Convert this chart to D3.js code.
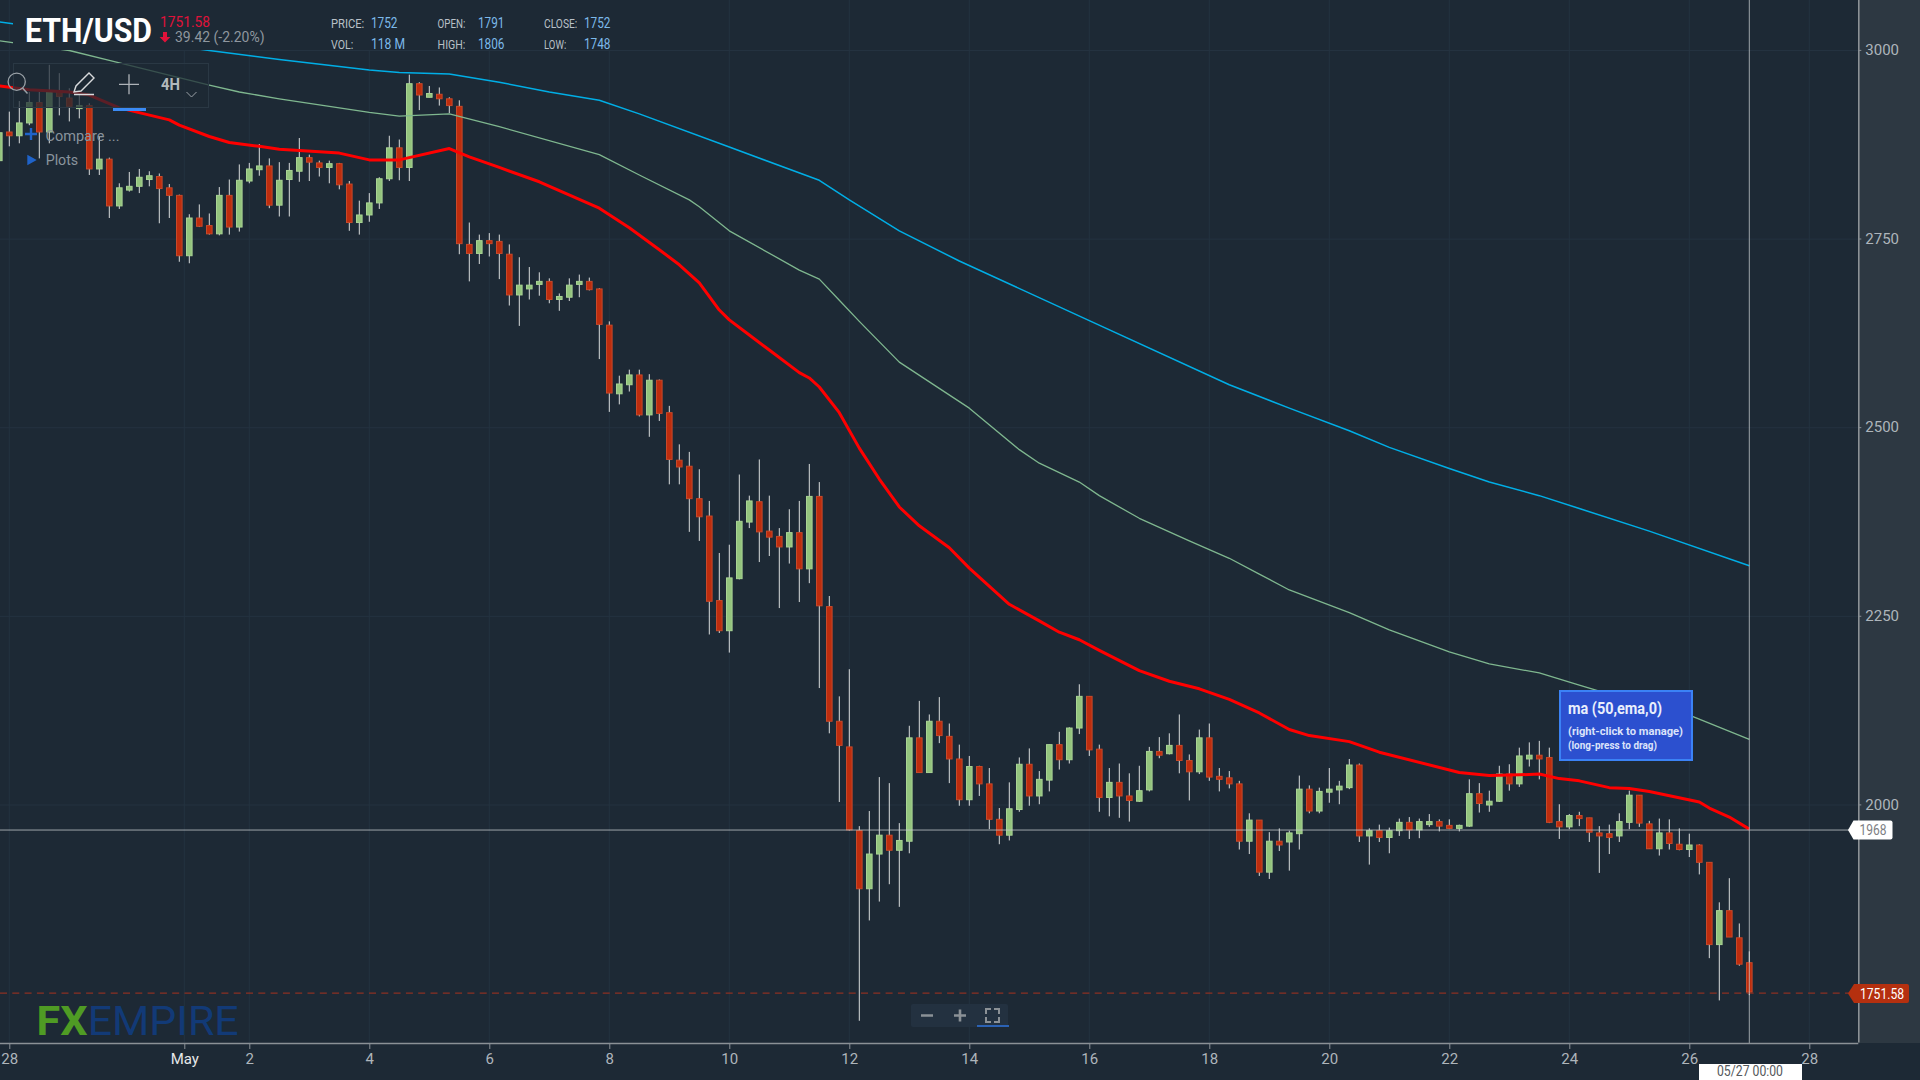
<!DOCTYPE html>
<html>
<head>
<meta charset="utf-8">
<title>ETH/USD</title>
<script src="https://cdnjs.cloudflare.com/ajax/libs/d3/7.8.5/d3.min.js"></script>
<style>
  html, body { margin: 0; padding: 0; background: #1d2935; overflow: hidden; }
  svg { display: block; font-family: Roboto, sans-serif; }
</style>
</head>
<body>
<svg id="chart" width="1920" height="1080"></svg>
<script>
// 4H candles, first one is Apr 27 20:00 (UTC), last one May 27 00:00
var opens = [
  2854,2892,2887,2904,2931,2892,2947,2937,2923,2927,
  2843,2856,2794,2815,2820,2829,2833,2818,2808,2728,
  2778,2768,2757,2808,2766,2827,2842,2847,2795,2829,
  2840,2858,2851,2845,2850,2823,2772,2782,2798,2830,
  2871,2845,2956,2938,2942,2936,2926,2743,2731,2748,
  2747,2730,2676,2684,2690,2694,2670,2673,2690,2694,
  2684,2636,2545,2557,2570,2517,2563,2520,2457,2449,
  2406,2383,2271,2231,2300,2375,2402,2363,2356,2342,
  2361,2313,2409,2263,2111,2077,1966,1889,1935,1960,
  1940,1952,2089,2043,2111,2091,2061,2007,2051,2028,
  1981,1960,1994,2054,2012,2033,2080,2060,2102,2144,
  2074,2010,2030,2012,2005,2020,2071,2068,2079,2059,
  2044,2089,2038,2036,2028,1952,1980,1911,1952,1951,
  1962,2021,1992,2017,2020,2023,2053,1959,1966,1957,
  1966,1977,1967,1974,1978,1973,1969,1972,2015,2000,
  2005,2041,2028,2061,2066,2063,1978,1971,1986,1983,
  1963,1962,1959,1977,2013,1975,1942,1963,1948,1941,
  1947,1924,1815,1860,1824,1791
];
var closes = [
  2891,2887,2904,2931,2892,2945,2939,2926,2927,2843,
  2856,2794,2818,2820,2832,2834,2817,2808,2728,2778,
  2767,2757,2808,2766,2828,2843,2847,2795,2828,2841,
  2858,2852,2845,2850,2822,2772,2782,2798,2830,2871,
  2845,2956,2941,2943,2936,2927,2744,2731,2748,2744,
  2731,2676,2689,2689,2694,2670,2674,2689,2694,2683,
  2637,2546,2558,2570,2517,2563,2519,2458,2448,2406,
  2382,2270,2231,2301,2376,2403,2362,2355,2342,2361,
  2313,2409,2264,2111,2079,1967,1889,1935,1960,1940,
  1953,2089,2043,2111,2092,2061,2007,2051,2028,1981,
  1960,1995,2054,2012,2034,2080,2060,2102,2144,2073,
  2010,2030,2012,2006,2019,2071,2066,2079,2059,2044,
  2089,2037,2034,2028,1952,1980,1911,1952,1947,1963,
  2021,1992,2018,2021,2025,2053,1959,1966,1957,1966,
  1977,1967,1978,1978,1972,1969,1973,2015,2002,2005,
  2041,2028,2065,2066,2061,1977,1971,1986,1982,1964,
  1959,1957,1978,2013,1976,1942,1963,1949,1941,1947,
  1924,1815,1860,1825,1789,1752
];
var highs = [
  2898,2919,2933,2945,2945,2981,2970,2950,2941,2930,
  2886,2858,2824,2839,2843,2840,2837,2823,2809,2783,
  2796,2784,2819,2829,2849,2851,2876,2857,2852,2851,
  2884,2862,2854,2854,2851,2827,2801,2811,2832,2887,
  2882,2968,2958,2953,2951,2938,2934,2772,2756,2758,
  2756,2743,2726,2713,2706,2698,2678,2698,2703,2699,
  2685,2641,2569,2577,2577,2571,2564,2529,2478,2468,
  2445,2403,2334,2345,2438,2410,2458,2410,2367,2392,
  2403,2452,2428,2277,2144,2180,1972,1992,2037,2029,
  1976,2105,2138,2120,2143,2108,2080,2065,2052,2049,
  1996,2030,2063,2075,2045,2080,2097,2103,2160,2144,
  2080,2049,2055,2042,2052,2077,2090,2095,2120,2067,
  2100,2108,2049,2045,2032,1989,1980,1964,1969,1966,
  2039,2026,2023,2049,2032,2061,2055,1969,1974,1970,
  1982,1984,1982,1988,1981,1981,1974,2034,2029,2019,
  2052,2054,2076,2083,2085,2076,2001,1988,1991,1983,
  1972,1974,1989,2019,2013,1979,1982,1981,1969,1962,
  1948,1924,1871,1903,1843,1806
];
var lows = [
  2848,2873,2877,2901,2857,2877,2914,2906,2910,2835,
  2835,2778,2790,2813,2811,2820,2771,2778,2720,2718,
  2766,2756,2755,2756,2760,2824,2834,2791,2780,2780,
  2826,2827,2833,2824,2816,2761,2756,2773,2790,2827,
  2828,2827,2921,2938,2927,2917,2730,2694,2717,2727,
  2697,2662,2635,2670,2675,2665,2655,2668,2673,2682,
  2591,2521,2531,2548,2515,2488,2509,2425,2425,2362,
  2350,2226,2228,2202,2299,2367,2322,2330,2261,2320,
  2269,2294,2155,2095,2004,1966,1714,1847,1872,1895,
  1865,1936,2043,2043,2082,2029,1999,1999,2012,1968,
  1948,1953,1991,1999,2001,2018,2047,2055,2094,2065,
  1991,1985,1983,1978,2004,2018,2062,2067,2042,2006,
  2041,2032,2018,2022,1941,1935,1906,1902,1939,1913,
  1941,1989,1989,2003,2001,2021,1951,1921,1951,1936,
  1959,1955,1956,1971,1965,1968,1965,1971,1990,1991,
  2004,2019,2024,2051,2034,1976,1955,1968,1972,1951,
  1910,1935,1951,1968,1971,1942,1933,1941,1940,1931,
  1908,1797,1741,1825,1787,1748
];

// moving averages, read at these candle numbers
var ema50Idx = [0,3,7,9,12,17,18,21,23,26,28,34,37,40,45,47,50,54,60,63,66,68,70,72,73,75,77,80,81,82,84,86,88,90,92,95,97,101,104,106,108,110,114,117,120,123,126,129,131,135,138,146,149,152,154,156,158,161,163,165,170,171,173,175];
var ema50 = [2953,2948,2945,2941,2924,2908,2901,2886,2878,2873,2869,2864,2855,2855,2870,2859,2845,2826,2791,2765,2736,2716,2692,2656,2643,2623,2603,2573,2566,2554,2520,2473,2432,2395,2370,2341,2314,2266,2244,2229,2219,2205,2178,2164,2154,2140,2122,2100,2092,2084,2070,2043,2039,2040,2041,2035,2032,2023,2022,2018,2004,1996,1984,1968];
var ema100Idx = [0,7,11,21,24,28,33,37,40,45,50,60,64,69,70,73,80,82,84,86,90,97,102,104,108,110,114,119,123,126,129,135,139,145,149,154,158,160,169,175];
var ema100 = [3013,3000,2987,2954,2945,2936,2926,2918,2913,2916,2899,2862,2835,2802,2793,2761,2709,2697,2669,2641,2587,2526,2471,2453,2428,2410,2380,2350,2327,2306,2285,2255,2232,2203,2187,2175,2159,2151,2119,2087];
var ema200Idx = [0,21,28,37,40,45,50,55,60,64,73,82,85,90,96,109,123,129,135,139,145,149,154,158,165,175];
var ema200 = [3038,3000,2988,2974,2971,2969,2958,2945,2934,2916,2872,2828,2802,2761,2721,2642,2557,2526,2496,2474,2446,2428,2410,2393,2363,2317];

var priceTicks = [2000, 2250, 2500, 2750, 3000];
var dayTicks = [28, 2, 4, 6, 8, 10, 12, 14, 16, 18, 20, 22, 24, 26, 28];
var lastPrice = 1751.58;
var crossPrice = 1968;
var stats = [
  ['PRICE:', '1752', 331, 371, 28], ['OPEN:', '1791', 437.6, 478, 28], ['CLOSE:', '1752', 544, 584, 28],
  ['VOL:', '118 M', 331, 371, 49], ['HIGH:', '1806', 437.6, 478, 49], ['LOW:', '1748', 544, 584, 49]
];

var firstCandle = Date.UTC(2021, 3, 27, 20);
function candleTime(i) { return new Date(firstCandle + i * 4 * 3600 * 1000); }

var W = 1920, H = 1080, plotRight = 1858.3, plotBottom = 1043;
var bg = '#1d2935', grid = '#243240', panel = '#2d3842', axisCol = '#8b9196';
var narrow = '"Liberation Sans Narrow", Roboto, sans-serif';

var x = d3.scaleUtc()
  .domain([new Date(Date.UTC(2021, 3, 28)), new Date(Date.UTC(2021, 4, 28))])
  .range([9.3, 1809.3]);
var y = d3.scaleLinear().domain([2000, 3000]).range([805, 50.5]);

var svg = d3.select('#chart');
svg.append('rect').attr('width', W).attr('height', H).attr('fill', bg);
svg.append('rect').attr('x', plotRight).attr('width', W - plotRight).attr('height', plotBottom).attr('fill', panel);

// tick dates. the May label sits a little before the 1st on the original
var xTickDates = dayTicks.map(function(d, i) {
  if (i == 0) return new Date(Date.UTC(2021, 3, 28));
  return new Date(Date.UTC(2021, 4, d));
});
var mayTick = new Date(Date.UTC(2021, 3, 30, 22));
var allTicks = xTickDates.concat([mayTick]);

// grid
svg.append('g').selectAll('line').data(allTicks).enter().append('line')
  .attr('x1', function(d) { return x(d); }).attr('x2', function(d) { return x(d); })
  .attr('y1', 0).attr('y2', plotBottom)
  .attr('stroke', grid).attr('stroke-width', 1);
svg.append('g').selectAll('line').data(priceTicks).enter().append('line')
  .attr('x1', 0).attr('x2', plotRight)
  .attr('y1', function(d) { return y(d); }).attr('y2', function(d) { return y(d); })
  .attr('stroke', grid).attr('stroke-width', 1);

// candles
var candles = d3.range(opens.length).map(function(i) {
  return { t: candleTime(i), o: opens[i], h: highs[i], l: lows[i], c: closes[i] };
});
var cg = svg.append('g').selectAll('g').data(candles).enter().append('g');
cg.append('line')
  .attr('x1', function(d) { return x(d.t); }).attr('x2', function(d) { return x(d.t); })
  .attr('y1', function(d) { return y(d.h); }).attr('y2', function(d) { return y(d.l); })
  .attr('stroke', '#d9dcdc').attr('stroke-width', 1);
cg.append('rect')
  .attr('x', function(d) { return x(d.t) - 2.8; })
  .attr('width', 5.6)
  .attr('y', function(d) { return y(Math.max(d.o, d.c)); })
  .attr('height', function(d) { return Math.abs(y(d.o) - y(d.c)); })
  .attr('fill', function(d) { return d.c >= d.o ? '#93c47d' : '#bd2d0e'; })
  .attr('stroke', function(d) { return d.c >= d.o ? '#a9d394' : '#c8492a'; })
  .attr('stroke-width', 1);

// moving averages
function drawEma(idx, vals, color, width) {
  var line = d3.line()
    .x(function(d, i) { return x(candleTime(idx[i])); })
    .y(function(d) { return y(d); });
  svg.append('path').attr('d', line(vals)).attr('fill', 'none')
    .attr('stroke', color).attr('stroke-width', width).attr('stroke-linejoin', 'round');
}
drawEma(ema200Idx, ema200, '#00aee6', 1.5);
drawEma(ema100Idx, ema100, '#7fb78f', 1.3);
drawEma(ema50Idx, ema50, '#ff0000', 3);

// last price and crosshair
svg.append('line').attr('x1', 0).attr('x2', plotRight)
  .attr('y1', y(lastPrice) + 0.6).attr('y2', y(lastPrice) + 0.6)
  .attr('stroke', '#8c3123').attr('stroke-width', 1.3).attr('stroke-dasharray', '7,5.3');
svg.append('line').attr('x1', 0).attr('x2', plotRight)
  .attr('y1', y(crossPrice) + 0.9).attr('y2', y(crossPrice) + 0.9)
  .attr('stroke', '#c9cdd0').attr('stroke-opacity', 0.75).attr('stroke-width', 1);
svg.append('line').attr('x1', x(candleTime(175))).attr('x2', x(candleTime(175)))
  .attr('y1', 0).attr('y2', plotBottom)
  .attr('stroke', '#c9cdd0').attr('stroke-opacity', 0.75).attr('stroke-width', 1);

// axes
var xAxis = d3.axisBottom(x).tickValues(allTicks).tickSize(6).tickPadding(4.6)
  .tickFormat(function(d) {
    if (+d == +mayTick) return 'May';
    return d.getUTCDate();
  });
var gx = svg.append('g').attr('transform', 'translate(0,' + plotBottom + ')').call(xAxis);
var yAxis = d3.axisRight(y).tickValues(priceTicks).tickSize(3).tickPadding(4).tickFormat(d3.format('d'));
var gy = svg.append('g').attr('transform', 'translate(' + plotRight + ',-0.6)').call(yAxis);
[gx, gy].forEach(function(g) {
  g.select('.domain').attr('stroke', axisCol).attr('stroke-width', 1.6);
  g.selectAll('.tick line').attr('stroke', axisCol);
  g.selectAll('text').attr('fill', '#aeb5bb').attr('font-size', 15).attr('font-family', 'Roboto');
});
gy.select('.domain').attr('d', 'M0.5,0V' + plotBottom);
gx.select('.domain').attr('d', 'M0,0.5H' + plotRight);
gx.selectAll('.tick text').filter(function(d) { return +d == +mayTick; })
  .attr('fill', '#e6e8ea').attr('font-family', 'Roboto');

function txt(str, px, py, size, color, opt) {
  opt = opt || {};
  var t = svg.append('text').attr('x', px).attr('y', py).text(str)
    .attr('font-size', size).attr('fill', color)
    .attr('font-weight', opt.weight || 400)
    .attr('text-anchor', opt.anchor || 'start');
  if (opt.family) t.attr('font-family', opt.family);
  if (opt.len) t.attr('textLength', opt.len).attr('lengthAdjust', 'spacingAndGlyphs');
  return t;
}

// header
svg.append('rect').attr('x', 13).attr('y', 0).attr('width', 630).attr('height', 50).attr('fill', bg);
txt('ETH/USD', 25, 42, 34, '#ffffff', { weight: 700, len: 127, family: narrow });
txt('1751.58', 160, 26.5, 15, '#e0123a', { len: 50 });
svg.append('path').attr('d', 'M163,32h4v5h3.4l-5.4,5.6l-5.4,-5.6h3.4z').attr('fill', '#e0123a');
txt('39.42 (-2.20%)', 175, 41.5, 15, '#8f979f', { len: 89.5 });
stats.forEach(function(s) {
  txt(s[0], s[2], s[4], 13, '#b9c0c7', { len: s[0].length * 5.55 });
  txt(s[1], s[3], s[4], 14, '#7cb9ea', { len: s[1].length == 4 ? 26.5 : 34 });
});

// toolbar
svg.append('rect').attr('x', 13.5).attr('y', 63.5).attr('width', 195).attr('height', 44)
  .attr('fill', bg).attr('fill-opacity', 0.72).attr('stroke', '#2a3844');
svg.append('circle').attr('cx', 16.7).attr('cy', 81.7).attr('r', 8.6)
  .attr('fill', 'none').attr('stroke', '#9aa1a7').attr('stroke-width', 1.3);
svg.append('path').attr('d', 'M22.5,88l5,5.5').attr('stroke', '#9aa1a7').attr('stroke-width', 1.5);
svg.append('path').attr('d', 'M74,92l2,-6l13,-13l5,5l-13,13zM74,94.5h20')
  .attr('fill', 'none').attr('stroke', '#d8dadc').attr('stroke-width', 1.4);
svg.append('path').attr('d', 'M119,84.3h20M129,74.3v20').attr('stroke', '#aeb3b8').attr('stroke-width', 1.3);
txt('4H', 161, 89.5, 16, '#b4b9bd', { weight: 700, len: 19 });
svg.append('path').attr('d', 'M186.5,92l5,5l5,-5').attr('fill', 'none').attr('stroke', '#9aa1a7');
svg.append('rect').attr('x', 113).attr('y', 108).attr('width', 33).attr('height', 3).attr('fill', '#3b8bf5');

svg.append('path').attr('d', 'M25,134h12M31,128v12').attr('stroke', '#1f63c9').attr('stroke-width', 2.4);
txt('Compare ...', 45.5, 141, 15.5, '#8a949d', { len: 74 });
svg.append('path').attr('d', 'M27.3,154.7L36.7,160L27.3,165.3z').attr('fill', '#1f63c9');
txt('Plots', 45.7, 165, 15.5, '#8a949d', { len: 32.5 });

// indicator tooltip
svg.append('rect').attr('x', 1560).attr('y', 691).attr('width', 132).attr('height', 69)
  .attr('fill', '#2c50cf').attr('stroke', '#3b82f6').attr('stroke-width', 2);
txt('ma (50,ema,0)', 1568, 714, 16, '#e9eefc', { weight: 700, len: 94 });
txt('(right-click to manage)', 1568, 734.5, 11.5, '#dbe3fa', { weight: 700, len: 115 });
txt('(long-press to drag)', 1568, 749, 11.5, '#dbe3fa', { weight: 700, len: 89 });

// price flags
svg.append('path').attr('d', 'M1848,830l5.5,-9.5h37a2,2 0 0 1 2,2v15a2,2 0 0 1 -2,2h-37z').attr('fill', '#ffffff');
txt('1968', 1873, 835, 14, '#7d8083', { anchor: 'middle', len: 27 });
svg.append('path').attr('d', 'M1848,993.5l6,-9.5h53a2,2 0 0 1 2,2v15a2,2 0 0 1 -2,2h-53z').attr('fill', '#b5300f');
txt('1751.58', 1882, 998.5, 14, '#ffffff', { anchor: 'middle', len: 44 });

// crosshair date
svg.append('rect').attr('x', 1699).attr('y', 1064).attr('width', 103).attr('height', 16).attr('fill', '#ffffff');
txt('05/27 00:00', 1750, 1076, 14, '#55595c', { anchor: 'middle', len: 66 });

// logo
txt('FX', 36.5, 1035, 40, '#4f9b24', { weight: 700, len: 51, family: narrow });
txt('EMPIRE', 87.7, 1035, 40, '#123a77', { len: 151, family: narrow });

// zoom buttons
svg.append('rect').attr('x', 911).attr('y', 1004).attr('width', 97).attr('height', 23).attr('rx', 2).attr('fill', '#233140');
svg.append('path').attr('d', 'M921,1015.5h12M954,1015.5h12M960,1009.5v12').attr('stroke', '#8b9196').attr('stroke-width', 2.6);
svg.append('path').attr('d', 'M986,1014v-5h5M994,1009h5v5M999,1017v5h-5M991,1022h-5v-5')
  .attr('fill', 'none').attr('stroke', '#8b9196').attr('stroke-width', 2);
svg.append('rect').attr('x', 977).attr('y', 1025).attr('width', 32).attr('height', 2).attr('fill', '#2b62b5');
</script>
</body>
</html>
